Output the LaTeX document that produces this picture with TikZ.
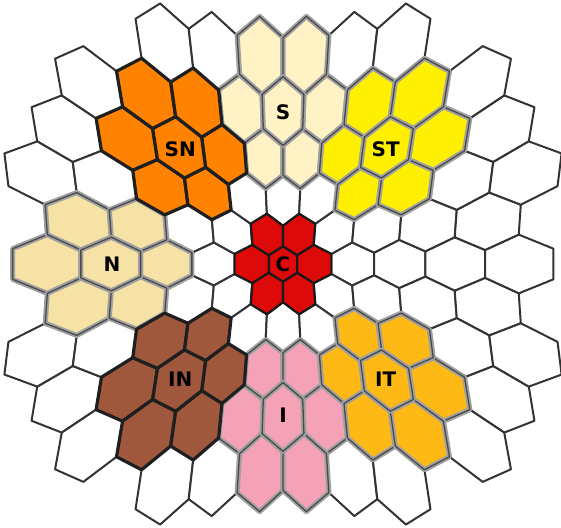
\documentclass[tikz,border=0pt]{standalone}
\usepackage{fontspec}
\setmainfont{DejaVu Sans}
\definecolor{gridline}{HTML}{333333}
\definecolor{halo}{HTML}{A0A0A0}
\definecolor{edgedark}{HTML}{4A4A4A}
\definecolor{cC}{HTML}{DE0A0A}
\definecolor{cS}{HTML}{FFF3C6}
\definecolor{cN}{HTML}{F5E2A4}
\definecolor{cSN}{HTML}{FF8200}
\definecolor{cST}{HTML}{FFF000}
\definecolor{cIN}{HTML}{A0583C}
\definecolor{cI}{HTML}{F6A2B6}
\definecolor{cIT}{HTML}{FFB914}
\tikzset{
  wcell/.style={fill=white, draw=gridline, line width=2, line join=round},
  softcell/.style={fill=#1, draw=halo, double=edgedark, double distance=1.3, line width=1.9, line join=round},
  darkcell/.style={fill=#1, draw=black!88, line width=3.2, line join=round},
  redcell/.style={fill=#1, draw=black!90, line width=2.2, line join=round},
  lab/.style={font=\bfseries\fontsize{20}{20}\selectfont, text=black, inner sep=0pt}
}
% one cell of the distorted hexagonal grid: column #1, row #2, style #3
\newcommand{\hexcell}[3]{%
  \pgfmathsetmacro{\hxcu}{(#1)/2}%
  \pgfmathsetmacro{\hxcv}{(#2)*0.866025}%
  \foreach \hxk/\hxdu/\hxdv in {1/0/-0.57735,2/0.5/-0.288675,3/0.5/0.288675,4/0/0.57735,5/-0.5/0.288675,6/-0.5/-0.288675}{%
    \pgfmathsetmacro{\hxu}{\hxcu+(\hxdu)}%
    \pgfmathsetmacro{\hxv}{\hxcv+(\hxdv)}%
    \pgfmathsetmacro{\hxs}{25.75+4.25*sqrt((\hxu)*(\hxu)+(\hxv)*(\hxv))}%
    \coordinate (hv\hxk) at ({283+\hxs*\hxu},{264+1.08*\hxs*\hxv});%
  }%
  \draw[#3] (hv1)--(hv2)--(hv3)--(hv4)--(hv5)--(hv6)--cycle;%
}
\newcommand{\flower}[3]{%
  \foreach \fla/\flb in {-2/0,2/0,-1/-1,1/-1,-1/1,1/1,0/0}{%
    \pgfmathtruncatemacro{\flx}{#1+(\fla)}%
    \pgfmathtruncatemacro{\fly}{#2+(\flb)}%
    \hexcell{\flx}{\fly}{#3}%
  }%
}
\newcommand{\cellpt}[3]{%
  \pgfmathsetmacro{\hxu}{(#1)/2}%
  \pgfmathsetmacro{\hxv}{(#2)*0.866025}%
  \pgfmathsetmacro{\hxs}{25.75+4.25*sqrt((\hxu)*(\hxu)+(\hxv)*(\hxv))}%
  \coordinate (#3) at ({283+\hxs*\hxu},{264+1.08*\hxs*\hxv});%
}
\begin{document}
\begin{tikzpicture}[x=1pt,y=-1pt]
\useasboundingbox (0,0) rectangle (561,527);
% white grid
\foreach \X in {-10,-8,...,10} {\hexcell{\X}{0}{wcell}}
\foreach \R in {-1,1,-3,3} {\foreach \X in {-9,-7,...,9} {\hexcell{\X}{\R}{wcell}}}
\foreach \R in {-2,2} {\foreach \X in {-10,-8,...,10} {\hexcell{\X}{\R}{wcell}}}
\foreach \R in {-4,4} {\foreach \X in {-8,-6,...,8} {\hexcell{\X}{\R}{wcell}}}
\foreach \R in {-5,5} {\foreach \X in {-5,-3,...,5} {\hexcell{\X}{\R}{wcell}}}
% coloured regions
\flower{0}{-4}{softcell=cS}
\flower{-8}{0}{softcell=cN}
\flower{0}{4}{softcell=cI}
\flower{5}{-3}{softcell=cST}
\flower{5}{3}{softcell=cIT}
\flower{-5}{-3}{darkcell=cSN}
\flower{-5}{3}{darkcell=cIN}
\flower{0}{0}{redcell=cC}
% labels
\cellpt{0}{0}{pC}
\cellpt{0}{-4}{pS}
\cellpt{0}{4}{pI}
\cellpt{-8}{0}{pN}
\cellpt{-5}{-3}{pSN}
\cellpt{5}{-3}{pST}
\cellpt{-5}{3}{pIN}
\cellpt{5}{3}{pIT}
\node[lab] (lC) at (pC) {C};
\node[lab] (lS) at (pS) {S};
\node[lab] (lI) at (pI) {I};
\node[lab] (lN) at (pN) {N};
\node[lab] (lSN) at (pSN) {SN};
\node[lab] (lST) at (pST) {ST};
\node[lab] (lIN) at (pIN) {IN};
\node[lab] (lIT) at (pIT) {IT};
\end{tikzpicture}
\end{document}
